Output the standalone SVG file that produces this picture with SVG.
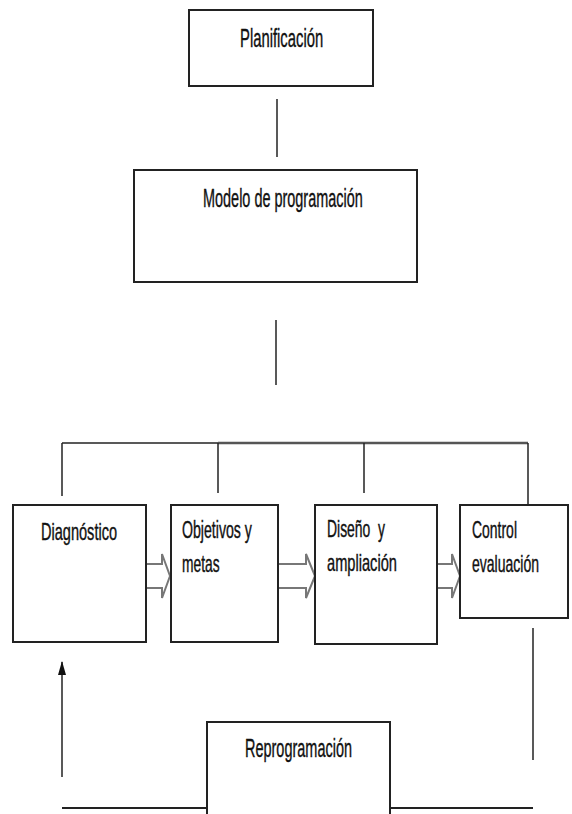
<svg xmlns="http://www.w3.org/2000/svg" width="572" height="814" viewBox="0 0 572 814">
<defs>
<style>
.box{fill:#fff;stroke:#222;stroke-width:2}
.lbl{font-family:"Liberation Sans",Arial,sans-serif;fill:#111;stroke:#111;stroke-width:0.4}
.big{font-size:26px}
.sm{font-size:23px}
.ln{stroke:#222;stroke-width:1.5;fill:none}
.blk{fill:#fff;stroke:#777;stroke-width:2}
</style>
<marker id="ah" viewBox="0 0 14 8" refX="13" refY="4" markerWidth="14" markerHeight="8" markerUnits="userSpaceOnUse" orient="auto">
<path d="M0,0 L14,4 L0,8 Z" fill="#111"/>
</marker>
</defs>
<rect width="572" height="814" fill="#fff"/>

<g id="connectors">
<line class="ln" x1="277" y1="99" x2="277" y2="157"/>
<line class="ln" x1="276" y1="320" x2="276" y2="385"/>
<line class="ln" x1="62" y1="443" x2="220" y2="443"/>
<line x1="218" y1="443" x2="528" y2="443" stroke="#555" stroke-width="2.5"/>
<line class="ln" x1="62" y1="443" x2="62" y2="496"/>
<line class="ln" x1="218" y1="443" x2="218" y2="493"/>
<line class="ln" x1="364" y1="443" x2="364" y2="493"/>
<line class="ln" x1="528" y1="443" x2="528" y2="505"/>
<path class="blk" d="M146,564 H162 V554 L170,576 L162,598 V588 H146"/>
<path class="blk" d="M278,564 H306 V554 L315,576 L306,598 V588 H278"/>
<path class="blk" d="M437,564 H452 V554 L460,576 L452,598 V588 H437"/>
<line class="ln" x1="62" y1="777" x2="62" y2="662" marker-end="url(#ah)"/>
<line class="ln" x1="533" y1="628" x2="533" y2="760"/>
<line x1="62" y1="808" x2="208" y2="808" stroke="#222" stroke-width="2"/>
<line x1="390" y1="808" x2="533" y2="808" stroke="#222" stroke-width="2"/>
</g>

<g id="planificacion">
<rect class="box" x="189" y="10" width="184" height="76" stroke-width="2.5"/>
<text class="lbl big" transform="translate(240,47) scale(0.57,1)">Planificación</text>
</g>

<g id="modelo">
<rect class="box" x="134" y="170" width="283" height="112"/>
<text class="lbl big" transform="translate(203,207) scale(0.556,1)">Modelo de programación</text>
</g>

<g id="diagnostico">
<rect class="box" x="13" y="505" width="133" height="137"/>
<text class="lbl sm" transform="translate(41,540) scale(0.633,1)">Diagnóstico</text>
</g>

<g id="objetivos">
<rect class="box" x="171" y="505" width="107" height="137"/>
<text class="lbl sm" transform="translate(182,538) scale(0.615,1)">Objetivos y</text>
<text class="lbl sm" transform="translate(182,572) scale(0.6,1)">metas</text>
</g>

<g id="diseno">
<rect class="box" x="315" y="505" width="122" height="139"/>
<text class="lbl sm" transform="translate(327,537) scale(0.605,1)" xml:space="preserve">Diseño  y</text>
<text class="lbl sm" transform="translate(327,571) scale(0.637,1)">ampliación</text>
</g>

<g id="control">
<rect class="box" x="460" y="505" width="108" height="113"/>
<text class="lbl sm" transform="translate(472,538) scale(0.607,1)">Control</text>
<text class="lbl sm" transform="translate(472,572) scale(0.61,1)">evaluación</text>
</g>

<g id="reprogramacion">
<path class="box" d="M207,816 V722 H390 V816" />
<text class="lbl big" transform="translate(245,757) scale(0.557,1)">Reprogramación</text>
</g>
</svg>
